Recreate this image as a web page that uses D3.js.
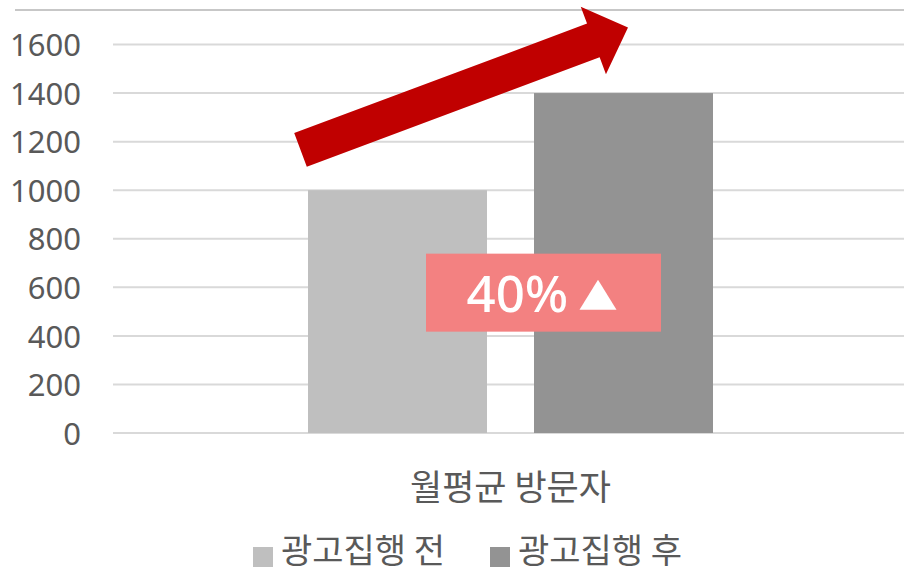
<!DOCTYPE html>
<html>
<head>
<meta charset="utf-8">
<script src="https://cdn.jsdelivr.net/npm/d3@7"></script>
<style>
	html, body { margin: 0; padding: 0; background: #fff; }
	svg { display: block; }
	.tick text { font-family: 'Noto Sans', sans-serif; }
</style>
</head>
<body>
<svg id="chart" width="904" height="573"></svg>
<script>
// chart data
const categories = ['월평균 방문자']
const seriesNames = ['광고집행 전', '광고집행 후']
const seriesValues = [1000, 1400]
const seriesColors = ['#bfbfbf', '#939393']
const yTicks = [0, 200, 400, 600, 800, 1000, 1200, 1400, 1600]
const badgeLabel = '40%'

const width = 904
const height = 573
const margin = {top: 44.5, right: -4, bottom: 140, left: 113}

const svg = d3.select('#chart')

// thin rule across the top of the slide
svg.append('line')
	.attr('x1', 15).attr('x2', width)
	.attr('y1', 10).attr('y2', 10)
	.attr('stroke', '#b4b4b4')
	.attr('stroke-width', 1.5)

const x0 = d3.scaleBand()
	.domain(categories)
	.range([margin.left, width - margin.right])
	.paddingInner(0.325)
	.paddingOuter(0.325)

const x1 = d3.scaleBand()
	.domain(seriesNames)
	.range([0, x0.bandwidth()])
	.paddingInner(0.208)

const y = d3.scaleLinear()
	.domain([0, 1600])
	.range([height - margin.bottom, margin.top])

// gridlines
svg.append('g')
	.selectAll('line')
	.data(yTicks)
	.join('line')
	.attr('x1', margin.left)
	.attr('x2', width - margin.right)
	.attr('y1', d => y(d))
	.attr('y2', d => y(d))
	.attr('stroke', '#d9d9d9')
	.attr('stroke-width', 2)

// y axis labels
const yAxis = svg.append('g')
	.attr('transform', `translate(${margin.left - 32},0)`)
	.call(d3.axisLeft(y).tickValues(yTicks).tickFormat(d3.format('d')).tickSize(0).tickPadding(0))
yAxis.select('.domain').remove()
yAxis.selectAll('text')
	.attr('fill', '#595959')
	.attr('font-size', 31)
	.attr('dy', '0.36em')

// bars
const group = svg.append('g')
	.selectAll('g')
	.data(categories)
	.join('g')
	.attr('transform', d => `translate(${x0(d)},0)`)

group.selectAll('rect')
	.data(() => seriesNames.map((s, i) => ({s, v: seriesValues[i], c: seriesColors[i]})))
	.join('rect')
	.attr('x', d => x1(d.s))
	.attr('y', d => y(d.v))
	.attr('width', x1.bandwidth())
	.attr('height', d => y(0) - y(d.v))
	.attr('fill', d => d.c)

// category label
svg.append('g')
	.selectAll('text')
	.data(categories)
	.join('text')
	.attr('x', d => x0(d) + x0.bandwidth() / 2)
	.attr('y', 500)
	.attr('text-anchor', 'middle')
	.attr('font-family', "'Noto Sans CJK KR', sans-serif")
	.attr('font-size', 35)
	.attr('fill', '#595959')
	.text(d => d)

// legend
const legendX = [253, 490]
const legend = svg.append('g')
	.selectAll('g')
	.data(seriesNames)
	.join('g')
	.attr('transform', (d, i) => `translate(${legendX[i]},547)`)
legend.append('rect')
	.attr('width', 20).attr('height', 20)
	.attr('fill', (d, i) => seriesColors[i])
legend.append('text')
	.attr('x', 28)
	.attr('y', 16)
	.attr('font-family', "'Noto Sans CJK KR', sans-serif")
	.attr('font-size', 34)
	.attr('fill', '#595959')
	.text(d => d)

// growth arrow, from left of first bar up past second bar
const bar1Left = x0(categories[0]) + x1(seriesNames[0])
const bar2Right = x0(categories[0]) + x1(seriesNames[1]) + x1.bandwidth()
const tail = [bar1Left - 7.5, y(1166)]
const tip = [bar2Right - 85, y(1670)]
const len = Math.hypot(tip[0] - tail[0], tip[1] - tail[1])
const ang = Math.atan2(tip[1] - tail[1], tip[0] - tail[0]) * 180 / Math.PI
const sw = 18, hw = 36, hl = 37
svg.append('path')
	.attr('transform', `translate(${tail[0]},${tail[1]}) rotate(${ang})`)
	.attr('d', `M0,${-sw} L${len - hl},${-sw} L${len - hl},${-hw} L${len},0 L${len - hl},${hw} L${len - hl},${sw} L0,${sw} Z`)
	.attr('fill', '#c00000')

// change badge
const badgeCx = (bar1Left + bar2Right) / 2 + 33
const badgeCy = y(578)
const badge = svg.append('g').attr('transform', `translate(${badgeCx},${badgeCy})`)
badge.append('rect')
	.attr('x', -117.5).attr('y', -39)
	.attr('width', 235).attr('height', 78)
	.attr('fill', '#f38181')
badge.append('text')
	.attr('x', -77)
	.attr('y', 19)
	.attr('font-family', "'Noto Sans', sans-serif")
	.attr('font-size', 51)
	.attr('font-weight', 500)
	.attr('fill', '#fff')
	.text(badgeLabel)
badge.append('path')
	.attr('d', 'M36,17 L54.5,-13 L73,17 Z')
	.attr('fill', '#fff')
</script>
</body>
</html>
